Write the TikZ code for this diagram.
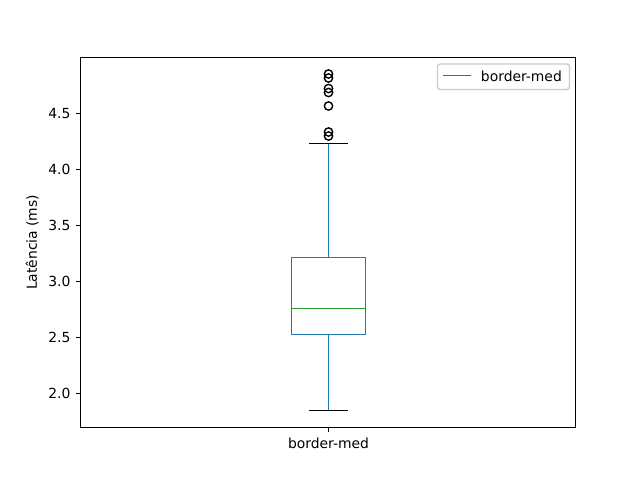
\documentclass[tikz,border=0pt]{standalone}
\usepackage{fontspec}
\setmainfont{DejaVu Sans}
\definecolor{tabblue}{HTML}{1F77B4}
\definecolor{tabgreen}{HTML}{2CA02C}
\definecolor{legedge}{gray}{0.8}
\tikzset{
  spine/.style={line width=0.8pt, black},
  tickmark/.style={line width=0.8pt, black},
  ticklab/.style={inner sep=0pt, font=\fontsize{10}{12}\selectfont},
  boxline/.style={tabblue, line width=1pt},
  capline/.style={black, line width=1pt},
  medline/.style={tabgreen, line width=1pt},
  flier/.style={circle, draw=black, line width=1pt, minimum size=6pt, inner sep=0pt},
  legframe/.style={draw=legedge, fill=white, fill opacity=0.8, line width=1pt, rounded corners=2pt},
}
\begin{document}
\begin{tikzpicture}[x=0.72pt,y=-0.72pt]
\useasboundingbox (0,0) rectangle (640,480);
\fill[white] (0,0) rectangle (640,480);
% box plot
\coordinate (lowcap) at (328.5,410.5);
\coordinate (highcap) at (328.5,143.5);
\coordinate (q1) at (328.5,334.5);
\coordinate (q3) at (328.5,257.5);
\draw[boxline] (291.5,257.5) rectangle (365.5,334.5);
\draw[boxline] (q1) -- (lowcap);
\draw[boxline] (q3) -- (highcap);
\draw[capline] (309,410.5) -- (348,410.5);
\draw[capline] (309,143.5) -- (348,143.5);
\draw[medline] (291.5,308.5) -- (365.5,308.5);
% fliers
\foreach \y [count=\i] in {74,78,88.5,92.5,106,132,136}
  \node[flier] (f\i) at (328.5,\y) {};
% axes
\draw[spine] (80.5,57.5) rectangle (575.5,427.5);
\foreach \y/\v in {113.5/4.5,169.5/4.0,225.5/3.5,281.5/3.0,337.5/2.5,393.5/2.0} {
  \draw[tickmark] (80.5,\y) -- ++(-3.5pt,0);
  \node[ticklab, anchor=east] (yt\v) at ([xshift=-7pt]80.5,\y) {\v};
}
\draw[tickmark] (328.5,427.5) -- ++(0,-3.5pt);
\node[ticklab, anchor=north] (xt) at ([yshift=-7pt]328.5,427.5) {border-med};
\node[ticklab, rotate=90] (ylab) at (32.2,242.4) {Latência (ms)};
% legend
\draw[legframe] (437.5,64) rectangle (569.5,89.5);
\coordinate (legA) at (443,75.5);
\coordinate (legB) at (471,75.5);
\draw[boxline] (legA) -- (legB);
\node[ticklab, anchor=west] (legtext) at (480.7,76) {border-med};
\end{tikzpicture}
\end{document}
